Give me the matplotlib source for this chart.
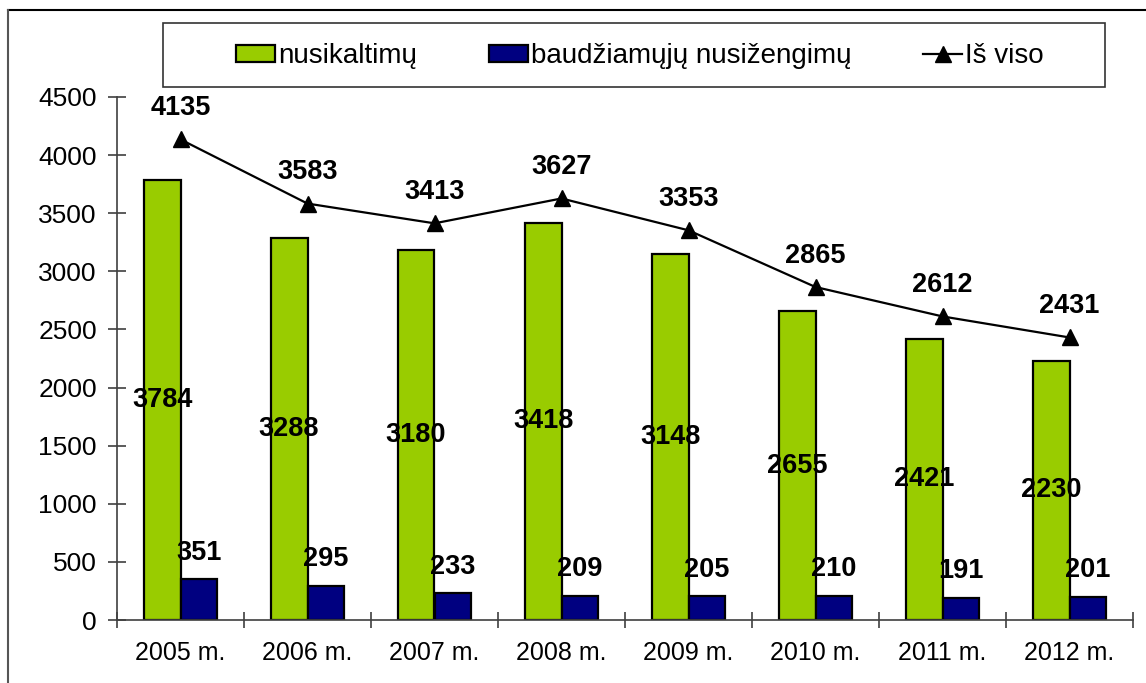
import matplotlib
matplotlib.use("Agg")
import matplotlib.pyplot as plt
from matplotlib.lines import Line2D
from matplotlib.patches import Rectangle
import numpy as np

plt.rcParams['font.family'] = ['Liberation Sans', 'DejaVu Sans']

categories = ["2005 m.", "2006 m.", "2007 m.", "2008 m.", "2009 m.", "2010 m.", "2011 m.", "2012 m."]
nusikaltimu = [3784, 3288, 3180, 3418, 3148, 2655, 2421, 2230]
nusizengimu = [351, 295, 233, 209, 205, 210, 191, 201]
is_viso = [4135, 3583, 3413, 3627, 3353, 2865, 2612, 2431]
yticks = [0, 500, 1000, 1500, 2000, 2500, 3000, 3500, 4000, 4500]

W, H = 1146, 683
fig = plt.figure(figsize=(W / 100, H / 100), dpi=100)
ax = fig.add_axes([117 / W, (H - 620) / H, (1133 - 117) / W, 523 / H])

x = np.arange(len(categories))
bw = 0.29
green = "#99CC00"
blue = "#000080"
axis_col = "#404040"

ax.bar(x - bw / 2, nusikaltimu, bw, color=green, edgecolor="black", linewidth=1.6, zorder=2)
ax.bar(x + bw / 2, nusizengimu, bw, color=blue, edgecolor="black", linewidth=1.6, zorder=2)
ax.plot(x, is_viso, color="black", linewidth=1.6, marker="^", markersize=11, zorder=3)

lab_kw = dict(fontsize=19.5, fontweight="bold", ha="center", va="center", zorder=4)
for xi, v in zip(x, nusikaltimu):
    ax.text(xi - bw / 2, v / 2, str(v), **lab_kw)
for xi, v in zip(x, nusizengimu):
    ax.annotate(str(v), (xi + bw / 2, v), xytext=(0, 19), textcoords="offset points", **lab_kw)
for xi, v in zip(x, is_viso):
    ax.annotate(str(v), (xi, v), xytext=(0, 22.5), textcoords="offset points", **lab_kw)

ax.set_xlim(-0.5, len(categories) - 0.5)
ax.set_ylim(0, 4500)
ax.set_yticks(yticks)
ax.set_yticklabels([str(t) for t in yticks], fontsize=19)
ax.set_xticks(x)
ax.set_xticklabels(categories, fontsize=18)
ax.set_xticks(np.arange(-0.5, len(categories), 1.0), minor=True)
ax.tick_params(axis="x", which="major", length=0, pad=15)
ax.tick_params(axis="x", which="minor", direction="inout", length=12, width=1.2, color=axis_col)
ax.tick_params(axis="y", direction="inout", length=13, width=1.2, color=axis_col, pad=8)

for s in ["top", "right"]:
    ax.spines[s].set_visible(False)
for s in ["left", "bottom"]:
    ax.spines[s].set_color(axis_col)
    ax.spines[s].set_linewidth(1.2)

# outer border (top and left)
fig.add_artist(Line2D([8 / W, 1.0], [1 - 10 / H, 1 - 10 / H], color="black", linewidth=1.5, transform=fig.transFigure))
fig.add_artist(Line2D([8 / W, 8 / W], [0, 1 - 10 / H], color="#555555", linewidth=1.5, transform=fig.transFigure))

# legend box
fig.add_artist(Rectangle((163 / W, 1 - 87 / H), (1105 - 163) / W, 64 / H, transform=fig.transFigure,
                         facecolor="white", edgecolor="#333333", linewidth=1.2))

handles = [
    Rectangle((0, 0), 1, 1, facecolor=green, edgecolor="black", linewidth=1.6),
    Rectangle((0, 0), 1, 1, facecolor=blue, edgecolor="black", linewidth=1.6),
    Line2D([], [], color="black", linewidth=1.6, marker="^", markersize=11),
]
labels = ["nusikaltimų", "baudžiamųjų nusižengimų", "Iš viso"]
leg = fig.legend(handles, labels, loc="center", bbox_to_anchor=(640 / W, 1 - 56 / H), ncol=3,
                 frameon=False, fontsize=20, handlelength=1.4, handleheight=0.55,
                 handletextpad=0.1, columnspacing=2.6)

fig.savefig("out.png", dpi=100)
